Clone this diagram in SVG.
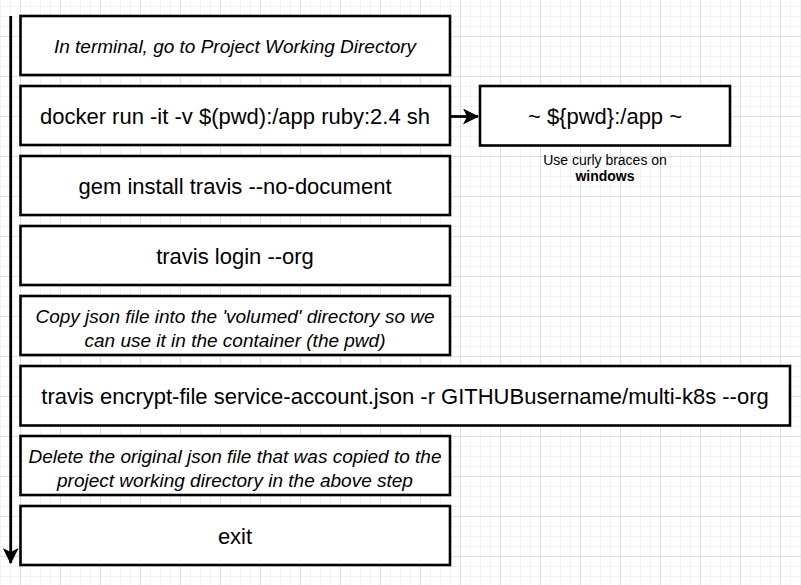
<svg xmlns="http://www.w3.org/2000/svg" width="801" height="585" viewBox="0 0 801 585">
<defs>
<pattern id="minor" x="0" y="6" width="10" height="10" patternUnits="userSpaceOnUse">
<path d="M0 0.5H10M0.5 0V10" fill="none" stroke="#f2f2f2" stroke-width="1"/>
</pattern>
<pattern id="major" x="20" y="36" width="40" height="40" patternUnits="userSpaceOnUse">
<path d="M0 0.5H40M0.5 0V40" fill="none" stroke="#e0e0e0" stroke-width="1"/>
</pattern>
<marker id="arr" viewBox="0 0 16 16" refX="15" refY="8" markerWidth="16" markerHeight="16" markerUnits="userSpaceOnUse" orient="auto">
<path d="M0 0L16 8L0 16L4 8Z" fill="#000"/>
</marker>
<style>
.box{fill:#fff;stroke:#000;stroke-width:2.6}
.t{font-family:"Liberation Sans",Arial,Helvetica,sans-serif;fill:#000;text-anchor:middle}
.big{font-size:22px}
.it{font-size:19px;font-style:italic}
.sm{font-size:14px}
.conn{stroke:#000;stroke-width:2.8;fill:none}
</style>
</defs>
<rect width="801" height="585" fill="#fff"/>
<rect width="801" height="585" fill="url(#minor)"/>
<rect width="801" height="585" fill="url(#major)"/>
<g id="connectors">
<path class="conn" d="M10.7 16V563" marker-end="url(#arr)"/>
<path class="conn" d="M450 116.5H478" marker-end="url(#arr)"/>
</g>
<g id="n1"><rect class="box" x="20.5" y="16" width="429.5" height="59"/>
<text class="t it" x="235" y="52.5">In terminal, go to Project Working Directory</text></g>
<g id="n2"><rect class="box" x="20.5" y="86" width="429.5" height="59"/>
<text class="t big" x="235" y="124">docker run -it -v $(pwd):/app ruby:2.4 sh</text></g>
<g id="n3"><rect class="box" x="480" y="86" width="250" height="59.5"/>
<text class="t big" x="605" y="124">~ ${pwd}:/app ~</text></g>
<g id="note"><text class="t sm" x="605" y="165">Use curly braces on</text>
<text class="t sm" x="605" y="181" font-weight="bold">windows</text></g>
<g id="n4"><rect class="box" x="20.5" y="156" width="429.5" height="59"/>
<text class="t big" x="235" y="194">gem install travis --no-document</text></g>
<g id="n5"><rect class="box" x="20.5" y="226" width="429.5" height="59"/>
<text class="t big" x="235" y="264">travis login --org</text></g>
<g id="n6"><rect class="box" x="20.5" y="296" width="429.5" height="59"/>
<text class="t it" x="235" y="322.5">Copy json file into the 'volumed' directory so we</text>
<text class="t it" x="235" y="346.5">can use it in the container (the pwd)</text></g>
<g id="n7"><rect class="box" x="20.5" y="366" width="769.5" height="59.5"/>
<text class="t big" x="405" y="404">travis encrypt-file service-account.json -r GITHUBusername/multi-k8s --org</text></g>
<g id="n8"><rect class="box" x="20.5" y="436" width="429.5" height="59"/>
<text class="t it" x="235" y="462.5">Delete the original json file that was copied to the</text>
<text class="t it" x="235" y="486.5">project working directory in the above step</text></g>
<g id="n9"><rect class="box" x="20.5" y="506" width="429.5" height="59"/>
<text class="t big" x="235" y="544">exit</text></g>
</svg>
